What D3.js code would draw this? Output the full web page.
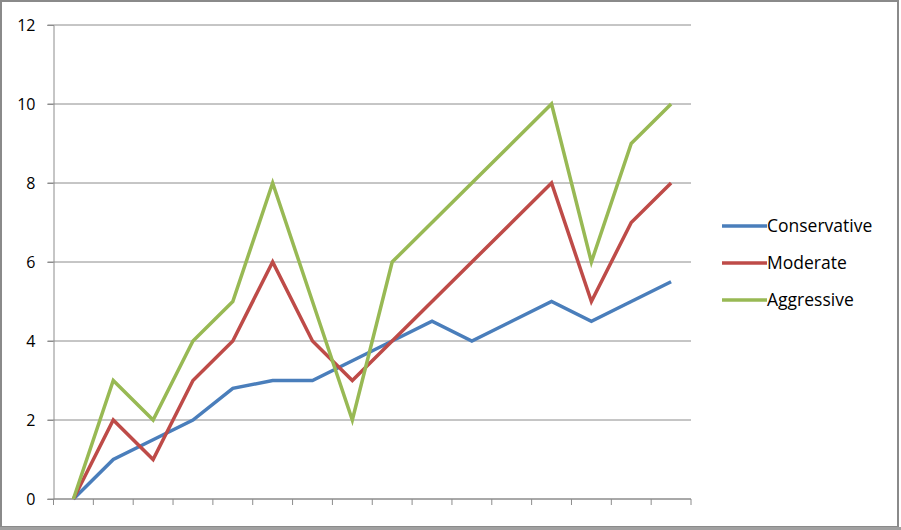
<!DOCTYPE html>
<style>
  body { margin: 0; background: #fff; }
  text { font-family: "Open Sans", sans-serif; fill: #000; }
</style>
<body></body>
<script src="https://cdn.jsdelivr.net/npm/d3@7"></script>
<script>
  const width = 901
  const height = 530

  // 16 unlabeled periods along the x axis
  const periods = d3.range(1, 17)
  const seriesNames = ["Conservative", "Moderate", "Aggressive"]
  const conservative = [0, 1, 1.5, 2, 2.8, 3, 3, 3.5, 4, 4.5, 4, 4.5, 5, 4.5, 5, 5.5]
  const moderate = [0, 2, 1, 3, 4, 6, 4, 3, 4, 5, 6, 7, 8, 5, 7, 8]
  const aggressive = [0, 3, 2, 4, 5, 8, 5, 2, 6, 7, 8, 9, 10, 6, 9, 10]
  const yTicks = [0, 2, 4, 6, 8, 10, 12]

  const colors = ["#4a7ebb", "#be4b48", "#98b954"]
  const series = [conservative, moderate, aggressive]

  const margin = { left: 53.5, right: 691, top: 25, bottom: 499 }

  const svg = d3.select("body")
    .append("svg")
    .attr("width", width)
    .attr("height", height)

  // outer frame
  svg.append("rect")
    .attr("x", 1).attr("y", 1)
    .attr("width", 897).attr("height", 526)
    .attr("fill", "#fff")
    .attr("stroke", "#8a8a8a")
    .attr("stroke-width", 2)
  svg.append("rect")
    .attr("x", 0).attr("y", 527)
    .attr("width", 901).attr("height", 3)
    .attr("fill", "#a0a0a0")

  const x = d3.scaleBand()
    .domain(periods)
    .range([margin.left, margin.right])

  const y = d3.scaleLinear()
    .domain([0, 12])
    .range([margin.bottom, margin.top])

  // gridlines
  svg.append("g")
    .selectAll("line")
    .data(yTicks)
    .join("line")
    .attr("x1", margin.left - 6)
    .attr("x2", margin.right)
    .attr("y1", d => y(d))
    .attr("y2", d => y(d))
    .attr("stroke", "#8c8c8c")
    .attr("stroke-width", 1)

  // y axis
  const yAxis = svg.append("g")
    .attr("transform", `translate(${margin.left},0)`)
    .call(d3.axisLeft(y).tickValues(yTicks).tickSize(6).tickPadding(12))
  yAxis.attr("font-size", null)
  yAxis.select(".domain").attr("stroke", "#8c8c8c")
  yAxis.selectAll(".tick line").attr("stroke", "#8c8c8c")
  yAxis.selectAll("text").style("font-size", "16px")

  // x axis: tick marks between categories, no labels
  const xAxis = svg.append("g")
    .attr("transform", `translate(0,${margin.bottom})`)
  xAxis.append("line")
    .attr("x1", margin.left).attr("x2", margin.right)
    .attr("stroke", "#8c8c8c")
  xAxis.selectAll("line.tick")
    .data(periods.concat([null]))
    .join("line")
    .classed("tick", true)
    .attr("x1", d => d === null ? margin.right : x(d))
    .attr("x2", d => d === null ? margin.right : x(d))
    .attr("y1", 0).attr("y2", 6)
    .attr("stroke", "#8c8c8c")

  const line = d3.line()
    .x((d, i) => x(periods[i]) + x.bandwidth() / 2)
    .y(d => y(d))

  svg.append("g")
    .selectAll("path")
    .data(series)
    .join("path")
    .attr("d", line)
    .attr("fill", "none")
    .attr("stroke", (d, i) => colors[i])
    .attr("stroke-width", 3.5)
    .attr("stroke-linejoin", "miter")

  // legend
  const legend = svg.append("g")
    .selectAll("g")
    .data(seriesNames)
    .join("g")
    .attr("transform", (d, i) => `translate(722,${226 + i * 37})`)
  legend.append("line")
    .attr("x1", 0).attr("x2", 45)
    .attr("stroke", (d, i) => colors[i])
    .attr("stroke-width", 3.5)
  legend.append("text")
    .attr("x", 45)
    .attr("dy", "0.35em")
    .style("font-size", "17.5px")
    .text(d => d)
</script>
